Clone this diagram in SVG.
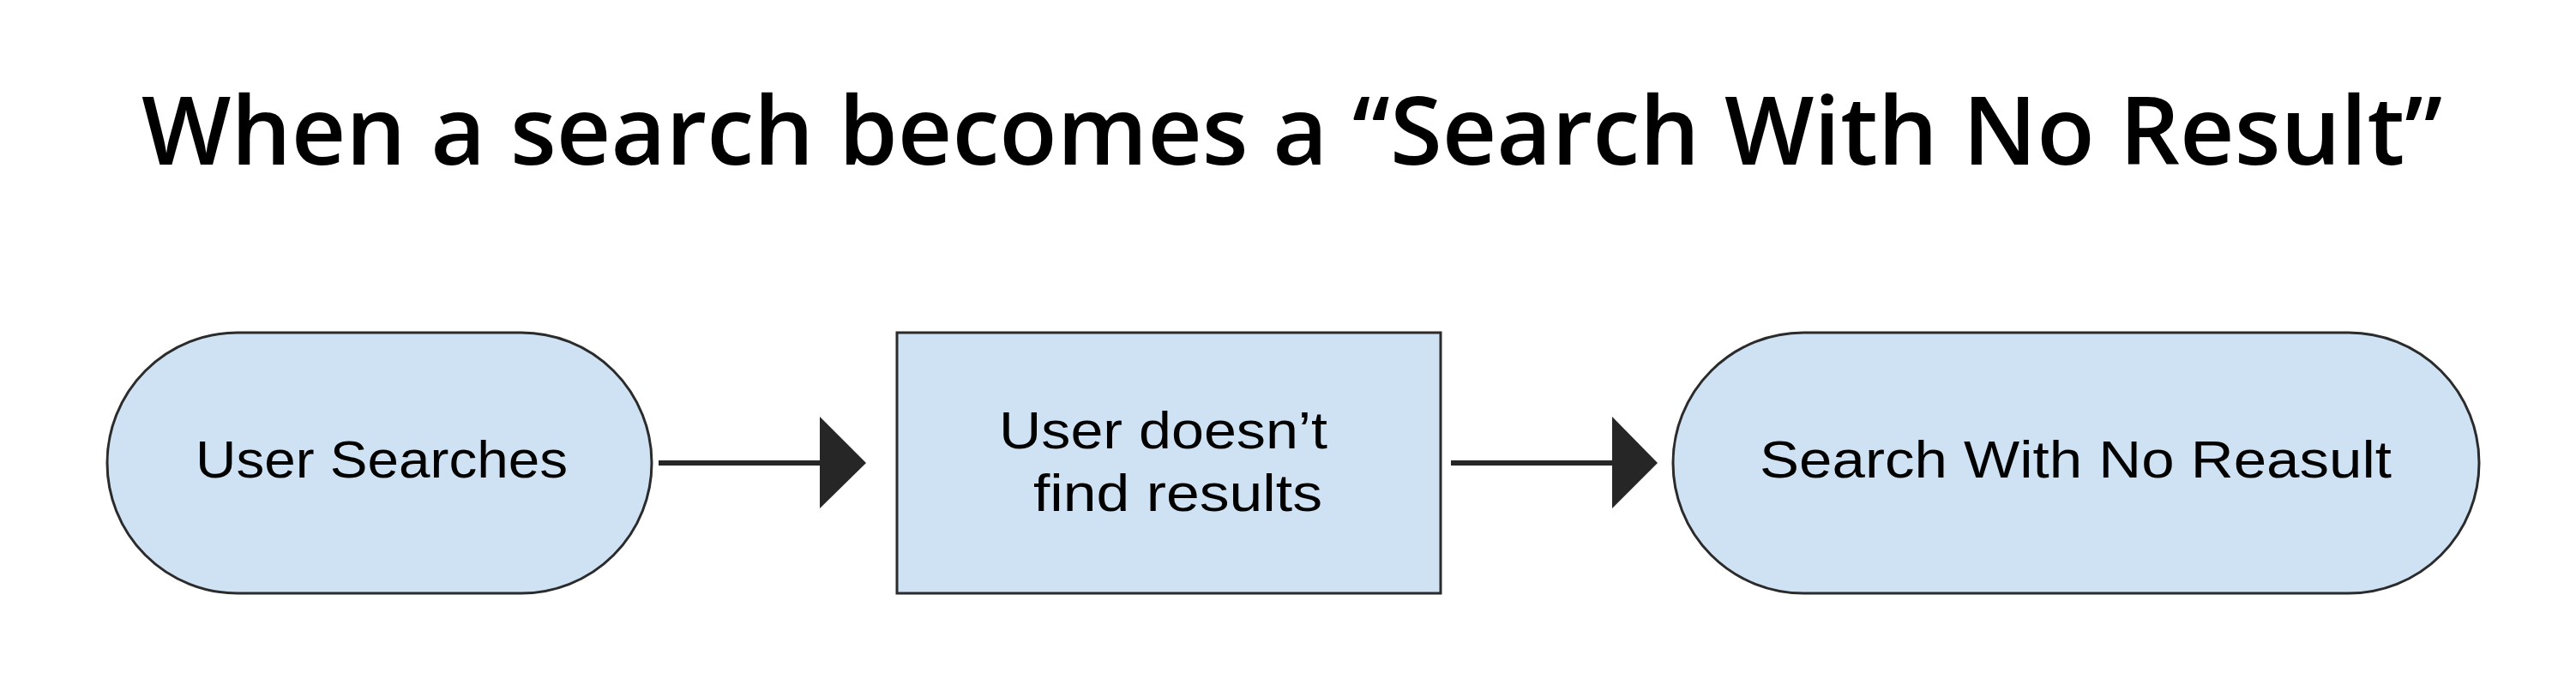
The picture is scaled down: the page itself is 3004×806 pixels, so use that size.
<svg xmlns="http://www.w3.org/2000/svg" width="3004" height="806" viewBox="0 0 3004 806">
<style>
.bg{fill:#ffffff}
.node{fill:#cfe2f3;stroke:#2b2b2b;stroke-width:3}
.lbl{font-family:"Liberation Sans","Open Sans",sans-serif;font-size:61px;fill:#000000}
.title{font-family:"Open Sans","Liberation Sans",sans-serif;font-size:110px;font-weight:600;fill:#000000}
.edge{stroke:#262626;stroke-width:6;fill:none}
.head{fill:#262626}
</style>
<rect class="bg" x="0" y="0" width="3004" height="806"/>
<text id="title" class="title" x="165" y="192" textLength="2683" lengthAdjust="spacingAndGlyphs">When a search becomes a “Search With No Result”</text>
<g id="connectors">
  <line class="edge" x1="768" y1="540" x2="958" y2="540"/>
  <polygon class="head" points="956,486 1010,540 956,593"/>
  <line class="edge" x1="1692" y1="540" x2="1882" y2="540"/>
  <polygon class="head" points="1880,486 1933,540 1880,593"/>
</g>
<g id="node-user-searches">
  <rect class="node" x="125" y="388" width="635" height="304" rx="152" ry="152"/>
  <text class="lbl" x="228" y="557" textLength="434" lengthAdjust="spacingAndGlyphs">User Searches</text>
</g>
<g id="node-doesnt-find">
  <rect class="node" x="1046" y="388" width="634" height="304"/>
  <text class="lbl" x="1165" y="523" textLength="383" lengthAdjust="spacingAndGlyphs">User doesn’t</text>
  <text class="lbl" x="1205" y="596" textLength="337" lengthAdjust="spacingAndGlyphs">find results</text>
</g>
<g id="node-no-result">
  <rect class="node" x="1951" y="388" width="940" height="304" rx="152" ry="152"/>
  <text class="lbl" x="2052" y="557" textLength="737" lengthAdjust="spacingAndGlyphs">Search With No Reasult</text>
</g>
</svg>
